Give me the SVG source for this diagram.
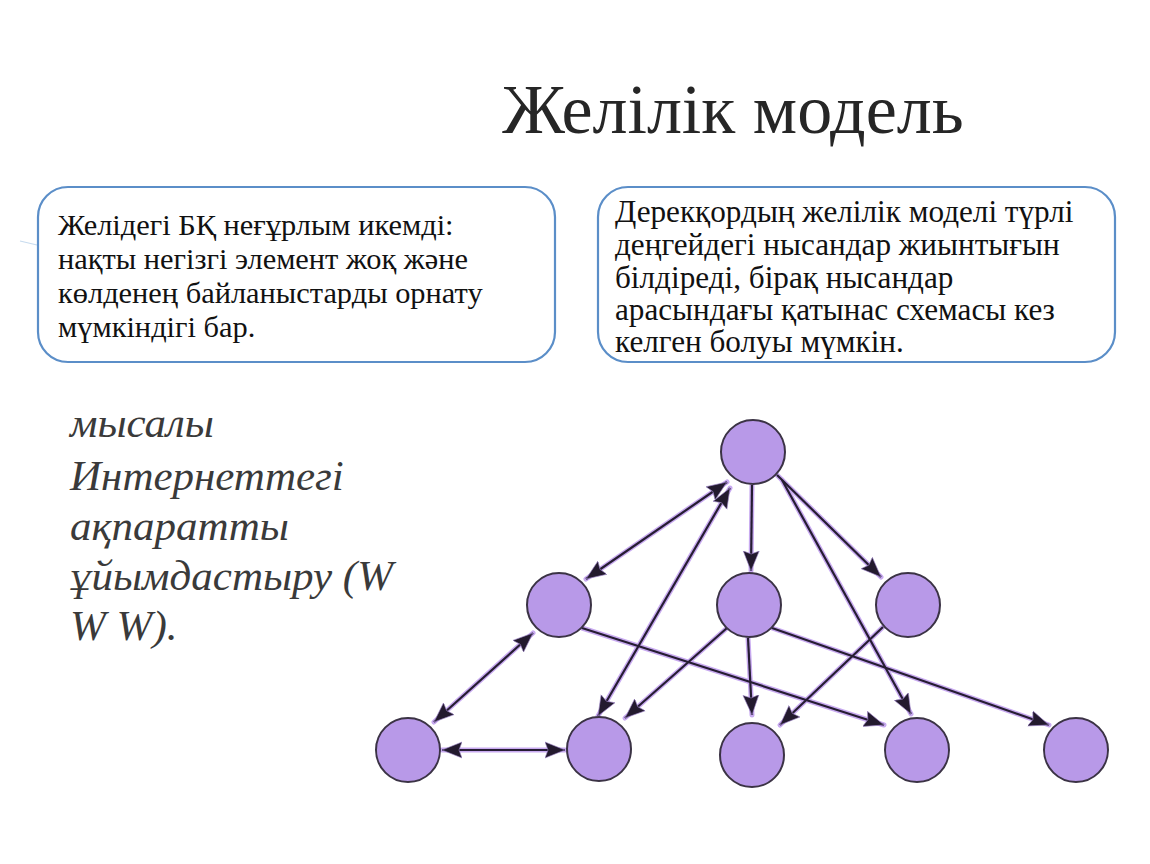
<svg xmlns="http://www.w3.org/2000/svg" width="1150" height="864" viewBox="0 0 1150 864">
<defs>
<style>
.title{font-family:"Liberation Serif","Times New Roman",serif;font-size:70px;fill:#262626}
.box{fill:#ffffff;stroke:#5b8ec8;stroke-width:2.2}
.bt{font-family:"Liberation Serif","Times New Roman",serif;font-size:30.4px;fill:#111111}
.bt2{font-family:"Liberation Serif","Times New Roman",serif;font-size:31.2px;fill:#111111}
.it{font-family:"Liberation Serif","Times New Roman",serif;font-style:italic;font-size:43px;fill:#3a3a3a}
.node{fill:#b899e8;stroke:#3b3345;stroke-width:2}
.halo{fill:none;stroke:#c8aaf0;stroke-width:5;stroke-linecap:round}
.edge{fill:none;stroke:#261d33;stroke-width:2.2}
.e1{marker-end:url(#ah)}
.e2{marker-start:url(#ah);marker-end:url(#ah)}
</style>
<marker id="ah" markerUnits="userSpaceOnUse" markerWidth="22" markerHeight="18" refX="20" refY="8" orient="auto-start-reverse" viewBox="0 0 22 16">
<path d="M0,0 L20,8 L0,16 L3,8 z" fill="#231a2e" stroke="#9f86c9" stroke-width="0.6"/>
</marker>
</defs>
<rect width="1150" height="864" fill="#ffffff"/>
<line x1="20" y1="241" x2="37" y2="245" stroke="#c7dbef" stroke-width="1.2"/>
<text class="title" x="733" y="133" text-anchor="middle">Желілік модель</text>
<g id="box-left">
<rect class="box" x="38" y="187" width="517" height="175" rx="30"/>
<text class="bt" x="58" y="235">Желідегі БҚ неғұрлым икемді:</text>
<text class="bt" x="58" y="269">нақты негізгі элемент жоқ және</text>
<text class="bt" x="58" y="303">көлденең байланыстарды орнату</text>
<text class="bt" x="58" y="337">мүмкіндігі бар.</text>
</g>
<g id="box-right">
<rect class="box" x="598" y="187" width="517" height="175" rx="30"/>
<text class="bt2" x="615" y="222">Дерекқордың желілік моделі түрлі</text>
<text class="bt2" x="615" y="255">деңгейдегі нысандар жиынтығын</text>
<text class="bt2" x="615" y="288">білдіреді, бірақ нысандар</text>
<text class="bt2" x="615" y="320">арасындағы қатынас схемасы кез</text>
<text class="bt2" x="615" y="352">келген болуы мүмкін.</text>
</g>
<g id="example-text">
<text class="it" x="70" y="437">мысалы</text>
<text class="it" x="70" y="490">Интернеттегі</text>
<text class="it" x="70" y="540">ақпаратты</text>
<text class="it" x="70" y="590">ұйымдастыру (W</text>
<text class="it" x="70" y="640">W W).</text>
</g>
<g id="connectors">
<g class="halos">
<line class="halo" x1="586" y1="579" x2="727" y2="482"/>
<line class="halo" x1="598" y1="716" x2="730" y2="488"/>
<line class="halo" x1="752" y1="485" x2="751" y2="571"/>
<line class="halo" x1="777" y1="475" x2="881" y2="577"/>
<line class="halo" x1="782" y1="480" x2="911" y2="714"/>
<line class="halo" x1="533" y1="633" x2="434" y2="722"/>
<line class="halo" x1="442" y1="750" x2="565" y2="750"/>
<line class="halo" x1="582" y1="628" x2="884" y2="725"/>
<line class="halo" x1="727" y1="628" x2="625" y2="718"/>
<line class="halo" x1="748" y1="638" x2="752" y2="715"/>
<line class="halo" x1="772" y1="628" x2="1049" y2="725"/>
<line class="halo" x1="883" y1="627" x2="780" y2="725"/>
</g>
<line id="e-t-ml" class="edge e2" x1="586" y1="579" x2="727" y2="482"/>
<line id="e-t-b2" class="edge e2" x1="598" y1="716" x2="730" y2="488"/>
<line id="e-t-mc" class="edge e1" x1="752" y1="485" x2="751" y2="571"/>
<line id="e-t-mr" class="edge e1" x1="777" y1="475" x2="881" y2="577"/>
<line id="e-t-b4" class="edge e1" x1="782" y1="480" x2="911" y2="714"/>
<line id="e-ml-b1" class="edge e2" x1="533" y1="633" x2="434" y2="722"/>
<line id="e-b1-b2" class="edge e2" x1="442" y1="750" x2="565" y2="750"/>
<line id="e-ml-b4" class="edge e1" x1="582" y1="628" x2="884" y2="725"/>
<line id="e-mc-b2" class="edge e1" x1="727" y1="628" x2="625" y2="718"/>
<line id="e-mc-b3" class="edge e1" x1="748" y1="638" x2="752" y2="715"/>
<line id="e-mc-b5" class="edge e1" x1="772" y1="628" x2="1049" y2="725"/>
<line id="e-mr-b3" class="edge e1" x1="883" y1="627" x2="780" y2="725"/>
</g>
<g id="node-t"><circle class="node" cx="753" cy="452" r="32"/></g>
<g id="node-ml"><circle class="node" cx="559" cy="605" r="32"/></g>
<g id="node-mc"><circle class="node" cx="749" cy="605" r="32"/></g>
<g id="node-mr"><circle class="node" cx="908" cy="605" r="32"/></g>
<g id="node-b1"><circle class="node" cx="408" cy="750" r="32"/></g>
<g id="node-b2"><circle class="node" cx="599" cy="749" r="32"/></g>
<g id="node-b3"><circle class="node" cx="752" cy="755" r="32"/></g>
<g id="node-b4"><circle class="node" cx="917" cy="750" r="32"/></g>
<g id="node-b5"><circle class="node" cx="1076" cy="750" r="32"/></g>
</svg>
